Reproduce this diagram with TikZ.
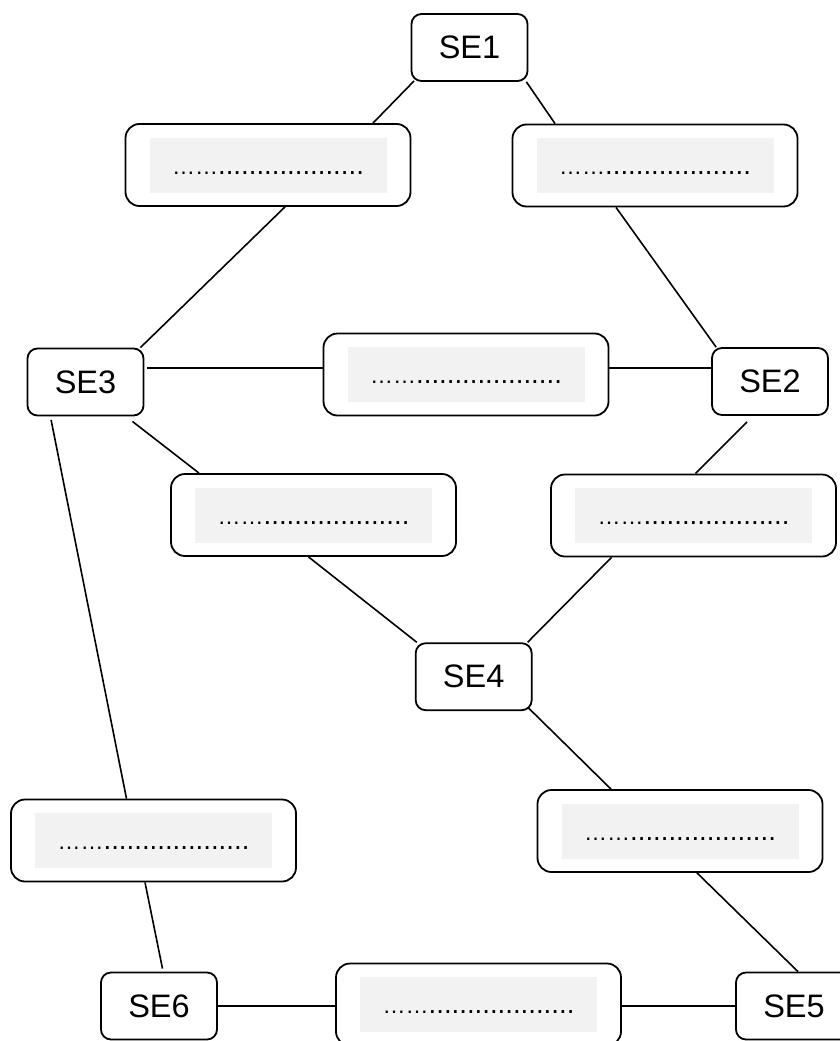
\documentclass[tikz,border=0pt]{standalone}
\usepackage{fontspec}
\setmainfont{Liberation Sans}
\usetikzlibrary{backgrounds}
\definecolor{slotgray}{RGB}{242,242,242}
\newcommand{\fillerdots}{{\fontsize{23}{23}\selectfont ……}{\fontsize{27.6}{28}\selectfont ...................}}
\tikzset{
  sebox/.style={rectangle, rounded corners=10pt, draw, line width=1.8pt,
                fill=white, minimum width=116pt, minimum height=67pt,
                inner sep=0pt, font=\fontsize{32.5}{39}\selectfont},
  slotbox/.style={rectangle, rounded corners=14pt, draw, line width=1.8pt,
                  fill=white, minimum width=285pt, minimum height=82pt,
                  inner sep=0pt},
  slotfill/.style={rectangle, fill=slotgray, minimum width=237pt,
                   inner sep=0pt, text height=36.7pt, text depth=18.3pt},
  selink/.style={draw, line width=1.6pt}
}

\begin{document}
\begin{tikzpicture}[
    x=1pt, y=-1pt
]
  \useasboundingbox (0,0) rectangle (839,1041);
  \foreach \name/\x/\y/\lbl in {se1/469.5/47.5/SE1, se2/770/381.5/SE2,
      se3/85.5/382/SE3, se4/473.7/676.7/SE4, se5/794/1006/SE5, se6/159/1006/SE6} {
    \node[sebox] (\name) at (\x,\y) {\lbl};
  }
  \foreach \name/\x/\y in {s13/268/165, s12/655/165.5, s32/466/374.5,
      s34/313.5/515, s24/693.5/515.5, s45/680/831, s36/153.5/840.5, s65/478.5/1004.5} {
    \node[slotbox] (\name) at (\x,\y) {};
    \node[slotfill] (\name-txt) at (\name) {\fillerdots};
  }
  % links run under the boxes
  \begin{scope}[on background layer]
    \draw[selink] ([xshift=3.5pt,yshift=1pt]se1.south west) -- ([xshift=105pt]s13.north);
    \draw[selink] ([xshift=-2pt]se1.south east) -- ([xshift=-100pt]s12.north);
    \draw[selink] ([xshift=17pt]s13.south) -- ([xshift=-4pt]se3.north east);
    \draw[selink] ([xshift=-39pt]s12.south) -- ([xshift=5pt]se2.north west);
    \draw[selink] ([xshift=3pt,yshift=14pt]se3.east) -- ([yshift=6.5pt]s32.west);
    \draw[selink] ([yshift=6.5pt]s32.east) -- ([yshift=13.5pt]se2.west);
    \draw[selink] ([xshift=-12pt,yshift=-5pt]se3.south east) -- ([xshift=-114.5pt]s34.north);
    \draw[selink] ([xshift=-23pt,yshift=-6pt]se2.south) -- ([xshift=2pt]s24.north);
    \draw[selink] ([xshift=-5pt]s34.south) -- ([xshift=2pt]se4.north west);
    \draw[selink] ([xshift=-82pt]s24.south) -- ([xshift=-5pt]se4.north east);
    \draw[selink] ([xshift=-6pt,yshift=5pt]se4.south east) -- ([xshift=-69pt]s45.north);
    \draw[selink] ([xshift=17pt]s45.south) -- ([xshift=4pt]se5.north);
    \draw[selink] ([xshift=24.5pt,yshift=-3.5pt]se3.south west) -- ([xshift=-27pt]s36.north);
    \draw[selink] ([xshift=-8.5pt]s36.south) -- ([xshift=3.5pt,yshift=3pt]se6.north);
    \draw[selink] (se6.east) -- (se6.east -| s65.west);
    \draw[selink] (se5.west -| s65.east) -- (se5.west);
  \end{scope}
\end{tikzpicture}
\end{document}
